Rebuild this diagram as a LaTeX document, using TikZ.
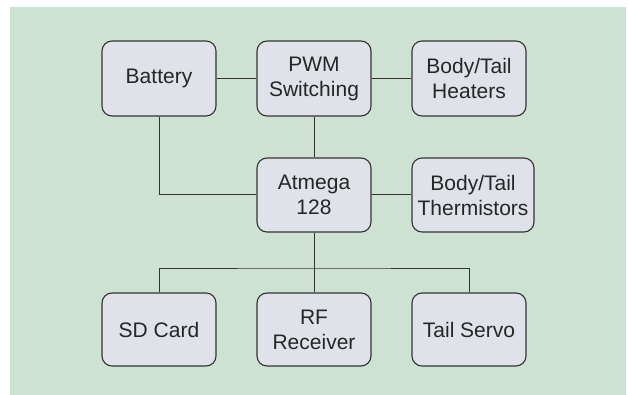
\documentclass[tikz,border=0pt]{standalone}
\usepackage{fontspec}
\setmainfont{Liberation Sans}
\definecolor{bggreen}{HTML}{CDE2D2}
\definecolor{boxfill}{HTML}{E0E2EA}
\definecolor{edge}{HTML}{333333}
\begin{document}
\begin{tikzpicture}[x=1pt,y=-1pt,
  blk/.style={draw=edge,fill=boxfill,line width=1.1pt,rounded corners=10pt,
    inner sep=0pt,align=center,font=\fontsize{21}{25}\selectfont,text=black!85},
  wire/.style={draw=edge,line width=1pt}]
\useasboundingbox (0,0) rectangle (628,395);
\fill[white] (0,0) rectangle (628,395);
\fill[bggreen] (10,7) rectangle (626,395);
\node[blk,minimum width=114pt,minimum height=75pt] (bat) at (159,78.5) {Battery};
\node[blk,minimum width=114pt,minimum height=75pt] (pwm) at (314,78.5) {PWM\\Switching};
\node[blk,minimum width=114pt,minimum height=75pt] (heat) at (469,78.5) {Body/Tail\\Heaters};
\node[blk,minimum width=114pt,minimum height=74pt] (atm) at (314,195) {Atmega\\128};
\node[blk,minimum width=122pt,minimum height=74pt] (therm) at (473,195) {Body/Tail\\Thermistors};
\node[blk,minimum width=114pt,minimum height=73pt] (sd) at (159,329.5) {SD Card};
\node[blk,minimum width=114pt,minimum height=73pt] (rf) at (314,329.5) {RF\\Receiver};
\node[blk,minimum width=114pt,minimum height=73pt] (servo) at (469,329.5) {Tail Servo};
\coordinate (bus) at (314,268);
\draw[wire] (bat) -- (pwm);
\draw[wire] (pwm) -- (heat);
\draw[wire] (pwm) -- (atm);
\draw[wire] (bat.south) |- (atm.west);
\draw[wire] (atm) -- (therm);
\draw[wire] (atm.south) -- (rf.north);
\draw[wire] (sd.north) |- (bus) -| (servo.north);
\end{tikzpicture}
\end{document}
